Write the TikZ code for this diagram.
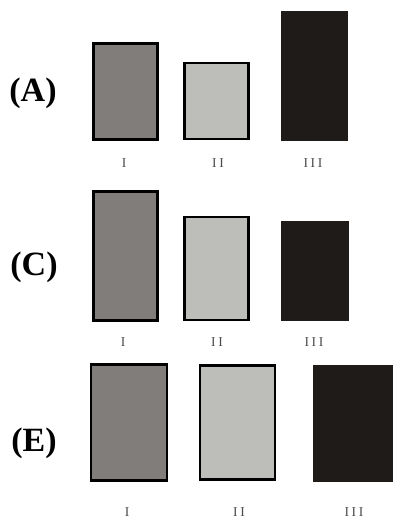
\documentclass[tikz,border=0pt]{standalone}
\usepackage{fontspec}
\setmainfont{Liberation Serif}
\newfontfamily\numfont[LetterSpace=20]{Liberation Serif}
\definecolor{midgray}{HTML}{817D7A}
\definecolor{lightgray2}{HTML}{BDBDBA}
\definecolor{darkbox}{HTML}{1F1B19}
\definecolor{numgray}{HTML}{4A4A4A}
\tikzset{
  bx/.style={anchor=north west, inner sep=0pt, outer sep=0pt, draw=black, line width=2.2pt},
  bxI/.style={bx, fill=midgray},
  bxII/.style={bx, fill=lightgray2},
  bxIII/.style={anchor=north west, inner sep=0pt, outer sep=0pt, fill=darkbox, draw=darkbox, line width=0.5pt},
  panel/.style={font=\fontsize{34}{34}\selectfont\bfseries, inner sep=0pt},
  num/.style={font=\numfont\fontsize{13.5}{13.5}\selectfont, text=numgray, inner sep=0pt}
}
\begin{document}
\begin{tikzpicture}[x=1pt,y=-1pt]
\useasboundingbox (0,0) rectangle (392,521);
% Panel A
\node[panel] (lA) at (33,93) {(A)};
\node[bxI, minimum width=64pt, minimum height=96pt] (a1) at (93.5,43.5) {};
\node[bxII, minimum width=64pt, minimum height=76pt] (a2) at (184.5,63) {};
\node[bxIII, minimum width=66pt, minimum height=129pt] (a3) at (281,11) {};
\node[num] (na1) at (124,163) {I};
\node[num] (na2) at (218,163) {II};
\node[num] (na3) at (313,163) {III};
% Panel C
\node[panel] (lC) at (34,267) {(C)};
\node[bxI, minimum width=64pt, minimum height=129pt] (c1) at (93.5,191.5) {};
\node[bxII, minimum width=64pt, minimum height=103pt] (c2) at (184.5,217) {};
\node[bxIII, minimum width=67pt, minimum height=99pt] (c3) at (281,221) {};
\node[num] (nc1) at (123,342) {I};
\node[num] (nc2) at (217,342) {II};
\node[num] (nc3) at (314,342) {III};
% Panel E
\node[panel] (lE) at (34,443) {(E)};
\node[bxI, minimum width=76pt, minimum height=116pt] (e1) at (91,364.5) {};
\node[bxII, minimum width=75pt, minimum height=114pt] (e2) at (200,365.5) {};
\node[bxIII, minimum width=80pt, minimum height=116pt] (e3) at (313,365) {};
\node[num] (ne1) at (127,512) {I};
\node[num] (ne2) at (239,512) {II};
\node[num] (ne3) at (354,512) {III};
\end{tikzpicture}
\end{document}
